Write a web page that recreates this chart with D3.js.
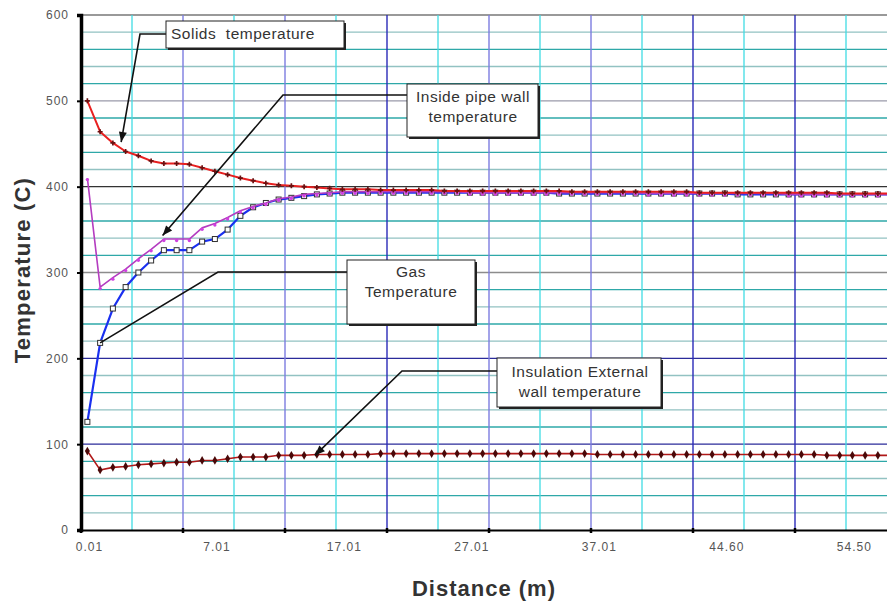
<!DOCTYPE html>
<html>
<head>
<meta charset="utf-8">
<script src="https://cdn.jsdelivr.net/npm/d3@7"></script>
<style>
  html, body { margin: 0; padding: 0; background: #fff; }
  svg { display: block; }
  text { font-family: "Liberation Sans", Arial, sans-serif; white-space: pre; }
</style>
</head>
<body>
<svg id="chart" width="887" height="602"></svg>
<script>
// ---------- DATA ----------
const categories = [
  "0.01","0.71","1.41","2.11","2.81","3.51","4.21","4.91","5.61","6.31",
  "7.01","8.01","9.01","10.01","11.01","12.01","13.01","14.01","15.01","16.01",
  "17.01","18.01","19.01","20.01","21.01","22.01","23.01","24.01","25.01","26.01",
  "27.01","28.01","29.01","30.01","31.01","32.01","33.01","34.01","35.01","36.01",
  "37.01","37.77","38.53","39.29","40.05","40.81","41.57","42.33","43.09","43.85",
  "44.60","45.59","46.58","47.57","48.56","49.55","50.54","51.53","52.52","53.51",
  "54.50","55.49","56.48","57.47"
];
const solidsTemp = [
  500,464,451,441,436,430,427,427,426,422,
  418,414,410,407,404,402,401,400,399,398,
  397,397,397,396,396,396,396,396,395,395,
  395,395,395,395,395,395,395,395,394,394,
  394,394,394,394,394,394,394,394,393,393,
  393,393,393,393,393,393,393,393,393,392,
  392,392,392,392
];
const insidePipeWallTemp = [
  410,283,294,304,316,327,339,339,339,352,
  357,364,372,377,381,386,388,391,392,393,
  394,394,394,394,394,394,394,394,394,394,
  393,393,393,393,393,393,393,393,393,393,
  393,393,393,393,392,392,392,392,392,392,
  392,392,392,392,392,391,391,391,391,391,
  391,391,391,391
];
const gasTemp = [
  126,218,258,283,300,314,326,326,326,336,
  339,350,366,376,381,385,387,389,391,392,
  393,393,393,393,393,393,393,393,393,393,
  393,393,393,393,393,393,393,392,392,392,
  392,392,392,392,392,392,392,392,392,392,
  392,391,391,391,391,391,391,391,391,391,
  391,391,391,391
];
const insulationTemp = [
  92,70,73,74,76,77,78,79,79,81,
  81,83,85,85,85,87,87,87,88,88,
  88,88,88,89,89,89,89,89,89,89,
  89,89,89,89,89,89,89,89,89,89,
  88,88,88,88,88,88,88,88,88,88,
  88,88,88,88,88,88,88,88,87,87,
  87,87,87,87
];
const yTicks = [0,100,200,300,400,500,600];
const yMinorTicks = [20,40,60,80,120,140,160,180,220,240,260,280,320,340,360,380,420,440,460,480,520,540,560,580];
const labelEvery = 10;   // categories between tick labels
const tickEvery = 8;     // categories between tick marks
const minorEvery = 4;    // categories between minor vertical gridlines

(function () {
// ---------- LAYOUT ----------
const svg = d3.select("#chart");
const pLeft = 81, pTop = 15, pBottom = 530, pRight = 897;

const x = d3.scaleBand().domain(d3.range(categories.length)).range([pLeft, pRight]).padding(0);
const bw = x.bandwidth();
const cx = i => x(i) + bw / 2;
const y = d3.scaleLinear().domain([0, 600]).range([pBottom, pTop]);
const px = idx => x(0) + bw * (idx + 0.5);   // fractional category -> px

// ---------- GRID ----------
const g = svg.append("g");
g.selectAll("line.hmin").data(yMinorTicks).join("line")
  .attr("x1", pLeft).attr("x2", pRight)
  .attr("y1", d => y(d)).attr("y2", d => y(d))
  .attr("stroke", d => ((600 - d) / 20) % 2 === 1 ? "#92c2c2" : "#2ea8a8")
  .attr("stroke-width", 1.4);
const majorCol = {100: "#2b2b9a", 200: "#2b2b9a", 300: "#8c8c8c", 400: "#333333", 500: "#9a9aaa", 600: "#777777"};
g.selectAll("line.hmaj").data(yTicks.filter(d => d > 0)).join("line")
  .attr("x1", pLeft).attr("x2", pRight)
  .attr("y1", d => y(d)).attr("y2", d => y(d))
  .attr("stroke", d => majorCol[d])
  .attr("stroke-width", d => d === 600 ? 1.5 : 1.3);

const bounds = d3.range(1, categories.length + 1);
const darkMajor = [24, 48, 56];
g.selectAll("line.vmin").data(bounds.filter(i => i % minorEvery === 0 && i % tickEvery !== 0)).join("line")
  .attr("x1", i => x(0) + i * bw).attr("x2", i => x(0) + i * bw)
  .attr("y1", pTop).attr("y2", pBottom)
  .attr("stroke", "#40dce4").attr("stroke-width", 1.3);
g.selectAll("line.vmaj").data(bounds.filter(i => i % tickEvery === 0)).join("line")
  .attr("x1", i => x(0) + i * bw).attr("x2", i => x(0) + i * bw)
  .attr("y1", pTop).attr("y2", pBottom)
  .attr("stroke", i => darkMajor.includes(i) ? "#2a2ab8" : "#7c7ce0").attr("stroke-width", 1.4);

// ---------- SERIES ----------
const line = d3.line().x((d, i) => cx(i)).y(d => y(d));
function drawSeries(data, color, width) {
  svg.append("path").datum(data).attr("d", line)
    .attr("fill", "none").attr("stroke", color).attr("stroke-width", width)
    .attr("stroke-linejoin", "round");
}

drawSeries(insulationTemp, "#b01818", 1.6);
svg.append("g").selectAll("path").data(insulationTemp).join("path")
  .attr("transform", (d, i) => `translate(${cx(i)},${y(d)})`)
  .attr("d", d3.symbol(d3.symbolDiamond, 22))
  .attr("fill", "#4a0808");

drawSeries(gasTemp, "#1a30f0", 2.2);
svg.append("g").selectAll("rect").data(gasTemp).join("rect")
  .attr("x", (d, i) => cx(i) - 2.5).attr("y", d => y(d) - 2.5)
  .attr("width", 5).attr("height", 5)
  .attr("fill", "#ffffff").attr("stroke", "#303030").attr("stroke-width", 1);

drawSeries(insidePipeWallTemp, "#b43cc0", 1.6);
svg.append("g").selectAll("path").data(insidePipeWallTemp).join("path")
  .attr("transform", (d, i) => `translate(${cx(i)},${y(d) + 1.5})`)
  .attr("d", d3.symbol(d3.symbolCircle, 9))
  .attr("fill", "#d040e0");

drawSeries(solidsTemp, "#e82020", 2);
svg.append("g").selectAll("path").data(solidsTemp).join("path")
  .attr("transform", (d, i) => `translate(${cx(i)},${y(d)})`)
  .attr("d", d3.symbol(d3.symbolCross, 14))
  .attr("fill", "#6a1010");

// ---------- AXES ----------
const yAxis = d3.axisLeft(y).tickValues(yTicks).tickSize(4).tickPadding(8);
const ya = svg.append("g").attr("transform", `translate(${pLeft},0)`).call(yAxis);
ya.select(".domain").attr("stroke", "#000").attr("stroke-width", 3.5);
ya.selectAll(".tick line").attr("stroke", "#000").attr("stroke-width", 2);
ya.selectAll(".tick text").attr("font-size", 12).attr("fill", "#555")
  .attr("letter-spacing", "1px").style("font-family", "Liberation Sans, Arial, sans-serif");

const xAxis = d3.axisBottom(x)
  .tickValues(d3.range(0, categories.length, labelEvery))
  .tickFormat(i => categories[i]).tickSize(0).tickPadding(12);
const xa = svg.append("g").attr("transform", `translate(0,${pBottom})`).call(xAxis);
xa.select(".domain").attr("stroke", "#000").attr("stroke-width", 1.8);
xa.selectAll(".tick text").attr("font-size", 12).attr("fill", "#555")
  .attr("letter-spacing", "1px").attr("dx", "2").style("font-family", "Liberation Sans, Arial, sans-serif");
svg.append("g").selectAll("line").data(d3.range(0, categories.length + 1, tickEvery)).join("line")
  .attr("x1", i => x(0) + i * bw).attr("x2", i => x(0) + i * bw)
  .attr("y1", pBottom - 2).attr("y2", pBottom + 3)
  .attr("stroke", "#000").attr("stroke-width", 2.5);

svg.append("text").attr("transform", "translate(30,270) rotate(-90)")
  .attr("text-anchor", "middle").attr("font-size", 22).attr("font-weight", "bold")
  .attr("fill", "#333").attr("letter-spacing", "1.2px").text("Temperature (C)");
svg.append("text").attr("x", 484).attr("y", 596)
  .attr("text-anchor", "middle").attr("font-size", 22).attr("font-weight", "bold")
  .attr("fill", "#333").attr("letter-spacing", "1px").text("Distance (m)");

// ---------- ANNOTATIONS ----------
const ann = svg.append("g");
function callout(box, lines, anchor, leader, arrow) {
  ann.append("polyline").attr("points", leader.map(p => p.join(",")).join(" "))
    .attr("fill", "none").attr("stroke", "#111").attr("stroke-width", 1.6);
  if (arrow) {
    const a = leader[leader.length - 1], b = leader[leader.length - 2];
    const ang = Math.atan2(a[1] - b[1], a[0] - b[0]);
    const L = 10, Wd = 4;
    const p1 = [a[0] - L * Math.cos(ang) + Wd * Math.sin(ang), a[1] - L * Math.sin(ang) - Wd * Math.cos(ang)];
    const p2 = [a[0] - L * Math.cos(ang) - Wd * Math.sin(ang), a[1] - L * Math.sin(ang) + Wd * Math.cos(ang)];
    ann.append("path").attr("d", `M${a[0]},${a[1]}L${p1[0]},${p1[1]}L${p2[0]},${p2[1]}Z`).attr("fill", "#111");
  }
  ann.append("rect").attr("x", box.x + 2).attr("y", box.y + 2).attr("width", box.w).attr("height", box.h).attr("fill", "#222");
  ann.append("rect").attr("x", box.x).attr("y", box.y).attr("width", box.w).attr("height", box.h)
    .attr("fill", "#fff").attr("stroke", "#222").attr("stroke-width", 1);
  lines.forEach((t, k) => {
    ann.append("text").attr("x", anchor.x).attr("y", anchor.y + k * 20)
      .attr("text-anchor", anchor.anchor).attr("font-size", 15.5).attr("fill", "#333")
      .attr("letter-spacing", "0.5px").text(t);
  });
}
callout({x: 166, y: 21, w: 178, h: 27}, ["Solids  temperature"], {x: 171, y: 39, anchor: "start"},
  [[166, 34], [140, 34], [px(2.65), y(452)]], true);
callout({x: 407, y: 84, w: 131, h: 53}, ["Inside pipe wall", "temperature"], {x: 473, y: 102, anchor: "middle"},
  [[407, 95], [283, 95], [px(5.9), y(343)]], true);
callout({x: 347, y: 260, w: 128, h: 64}, ["Gas", "Temperature"], {x: 411, y: 277, anchor: "middle"},
  [[347, 272], [218, 272], [px(1), y(gasTemp[1])]], false);
callout({x: 497, y: 358, w: 164, h: 49}, ["Insulation External", "wall temperature"], {x: 580, y: 377, anchor: "middle"},
  [[497, 371], [402, 371], [px(17.85), y(87)]], true);
})();
</script>
</body>
</html>
